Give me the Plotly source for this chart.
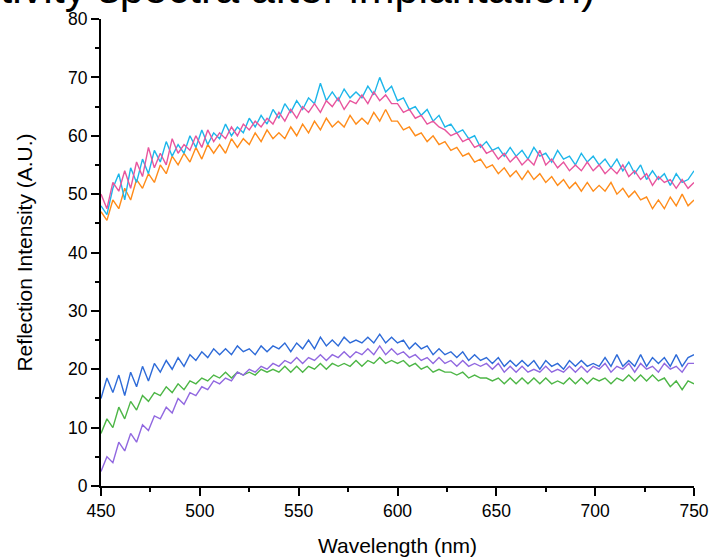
import plotly.graph_objects as go

wavelength = list(range(450, 751, 3))

cyan_vals = [
    48, 46.5, 51, 53.5, 49, 54.5, 52, 56, 53.5, 57.5,
    55.5, 59, 56.5, 58.5, 57, 60, 58, 61, 58.5, 60.5,
    59.5, 62, 60, 61.5, 60.5, 63, 61.5, 63.5, 62, 64.5,
    63, 65.5, 64, 66, 64.5, 66.5, 65.5, 69, 66, 67.5,
    66, 68, 66.5, 67.5, 66.5, 68.5, 67, 70, 67.5, 68.5,
    66, 66.5, 64.5, 65, 63.5, 64.5, 62.5, 63.5, 61.5, 62,
    60.5, 61, 59.5, 60, 58, 59, 57.5, 58, 56.5, 58,
    56.5, 57.5, 56, 58, 56.5, 57, 55.5, 57.5, 56, 56.5,
    55, 57, 55.5, 56.5, 55, 56, 54.5, 56, 54, 55.5,
    53.5, 55, 52.5, 54, 52.5, 53.5, 51.5, 53.5, 52, 52.5, 54,
]

pink_vals = [
    50, 47.5, 52, 50.5, 54, 51, 55.5, 53, 58, 54.5,
    57, 55, 59.5, 57, 58.5, 57.5, 60, 58, 61, 59,
    60.5, 59.5, 61.5, 60, 62, 61, 62.5, 61.5, 63, 62,
    64, 62.5, 64.5, 63, 65, 64, 65.5, 64, 66, 65,
    66.5, 64.5, 66, 65.5, 67, 65.5, 67.5, 66, 67, 65.5,
    65.5, 64, 64.5, 63, 63.5, 62, 62.5, 61.5, 61, 60,
    60.5, 59, 59.5, 58, 58.5, 57, 57.5, 56, 57, 55.5,
    56.5, 55, 56, 55, 57.5, 55, 56, 54.5, 55.5, 54,
    55, 54, 55.5, 54, 55, 53.5, 54.5, 53.5, 55, 53,
    54, 52.5, 53.5, 51.5, 53, 52, 52.5, 51, 52.5, 51, 52,
]

orange_vals = [
    47, 45.5, 49, 47.5, 51, 49, 52.5, 51, 53.5, 52,
    55, 53.5, 56.5, 55, 57, 55.5, 58, 56, 58.5, 57,
    58.5, 57, 59.5, 58, 59.5, 58.5, 60.5, 59, 61, 59.5,
    60.5, 59.5, 61.5, 60, 62, 60.5, 62.5, 61, 63, 61.5,
    62.5, 61.5, 63.5, 62, 63, 62, 64, 62.5, 64.5, 62.5,
    62.5, 61, 61.5, 60, 60.5, 59, 60, 58.5, 59, 57.5,
    58, 56.5, 57, 55.5, 56, 54.5, 55, 53.5, 54.5, 53,
    54, 52.5, 54, 52.5, 53.5, 52, 53, 51.5, 52.5, 51,
    52, 50.5, 52, 50.5, 51.5, 50.5, 52, 50, 51, 49.5,
    50.5, 49, 49.5, 47.5, 49, 47.5, 49.5, 48, 50, 48, 49,
]

blue_vals = [
    15, 18.5, 16, 19, 15.5, 19.5, 17, 20.5, 18, 21,
    19.5, 21.5, 20, 22, 20.5, 22.5, 21.5, 23, 22, 23.5,
    22.5, 23.5, 22.5, 24, 23, 23.5, 22.5, 24, 23, 24,
    23.5, 24.5, 23, 24.5, 23.5, 25, 23.5, 25.5, 24, 25,
    24, 25.5, 24.5, 25, 24.5, 25.5, 24.5, 26, 24.5, 25.5,
    24.5, 25, 23.5, 24.5, 23.5, 24, 22.5, 23.5, 22.5, 23,
    22, 23, 21.5, 22.5, 21.5, 22, 21, 22, 20.5, 21.5,
    20.5, 21.5, 20.5, 21.5, 20, 21.5, 20.5, 21, 20, 21.5,
    20.5, 21.5, 20.5, 21, 20.5, 22, 20.5, 22.5, 20.5, 21.5,
    20.5, 22.5, 20.5, 22, 21, 22, 20.5, 22.5, 20.5, 22, 22.5,
]

green_vals = [
    9, 11.5, 10, 13.5, 11.5, 14.5, 13, 15.5, 14.5, 16,
    15.5, 17, 16, 17.5, 16.5, 18, 17.5, 18.5, 18, 19,
    18.5, 19.5, 18.5, 19.5, 19, 19.5, 19, 20, 19.5, 20,
    19.5, 20.5, 19.5, 20.5, 19.5, 20.5, 20, 21, 20, 21,
    20.5, 21, 20.5, 21.5, 20.5, 21.5, 21, 22, 21, 21.5,
    21, 21.5, 20.5, 21, 20, 20.5, 19.5, 20, 19.5, 19.5,
    19, 19.5, 18.5, 19, 18.5, 18.5, 18, 18.5, 17.5, 18.5,
    17.5, 18.5, 17.5, 18.5, 17.5, 18.5, 17.5, 18, 17.5, 18.5,
    17.5, 18.5, 17.5, 18.5, 18, 18.5, 17.5, 18.5, 18, 19,
    18, 19, 18, 19, 18, 18.5, 17, 18, 16.5, 18, 17.5,
]

purple_vals = [
    2.5, 5, 4, 7.5, 6, 9, 7.5, 10.5, 9.5, 12,
    11.5, 13.5, 12.5, 15, 14, 16, 15.5, 17, 16.5, 18,
    17.5, 18.5, 18, 19.5, 19, 20, 19.5, 20.5, 20, 21,
    20.5, 21.5, 21, 22, 21, 22, 21.5, 22.5, 21.5, 22.5,
    22, 23, 22, 23, 22.5, 23.5, 22.5, 24, 22.5, 23.5,
    22.5, 23, 22, 22.5, 21.5, 22, 21, 22, 21, 21.5,
    20.5, 21.5, 20.5, 21, 20.5, 21, 20, 21, 19.5, 20.5,
    19.5, 20.5, 19.5, 20, 19.5, 20.5, 19.5, 20, 19.5, 20.5,
    19.5, 20.5, 19.5, 20.5, 20, 21, 19.5, 20.5, 20, 21,
    19.5, 21, 20, 20.5, 19.5, 21, 20, 20.5, 19.5, 21, 21,
]

series = [
    ("orange", orange_vals, "#FF8C1A"),
    ("cyan", cyan_vals, "#1DB6EA"),
    ("pink", pink_vals, "#E8559E"),
    ("green", green_vals, "#4DB646"),
    ("purple", purple_vals, "#9168E0"),
    ("blue", blue_vals, "#2E6BD8"),
]

title_text = "(Reflectivity spectra after implantation)"
x_title = "Wavelength (nm)"
y_title = "Reflection Intensity (A.U.)"

FONT = "Liberation Sans, Arial"

fig = go.Figure()
for name, vals, col in series:
    fig.add_trace(go.Scatter(x=wavelength, y=vals, mode="lines", name=name,
                             line=dict(color=col, width=1.4), showlegend=False))

axis_common = dict(
    showline=True, linecolor="black", linewidth=2,
    ticks="outside", ticklen=8, tickwidth=2, tickcolor="black",
    showgrid=False, zeroline=False, mirror=False, automargin=False,
    tickfont=dict(family=FONT, size=17.5, color="black"),
)

fig.update_xaxes(range=[450, 750], dtick=50, tick0=450,
                 minor=dict(ticks="outside", ticklen=4, tickwidth=1.5, tickcolor="black", dtick=25, showgrid=False),
                 title=dict(text=x_title, font=dict(family=FONT, size=21, color="black"), standoff=18),
                 **axis_common)
fig.update_yaxes(range=[0, 80], dtick=10, tick0=0,
                 minor=dict(ticks="outside", ticklen=4, tickwidth=1.5, tickcolor="black", dtick=5, showgrid=False),
                 title=dict(text=y_title, font=dict(family=FONT, size=21, color="black"), standoff=30),
                 **axis_common)

fig.add_annotation(text=title_text, xref="paper", yref="paper",
                   x=(597 - 101) / 593, y=1, xanchor="right", yanchor="bottom",
                   yshift=5, showarrow=False,
                   font=dict(family=FONT, size=43, color="black"))

fig.update_layout(
    width=710, height=558,
    margin=dict(l=101, r=16, t=19, b=72),
    plot_bgcolor="white", paper_bgcolor="white",
)

fig.write_html("out.html")
